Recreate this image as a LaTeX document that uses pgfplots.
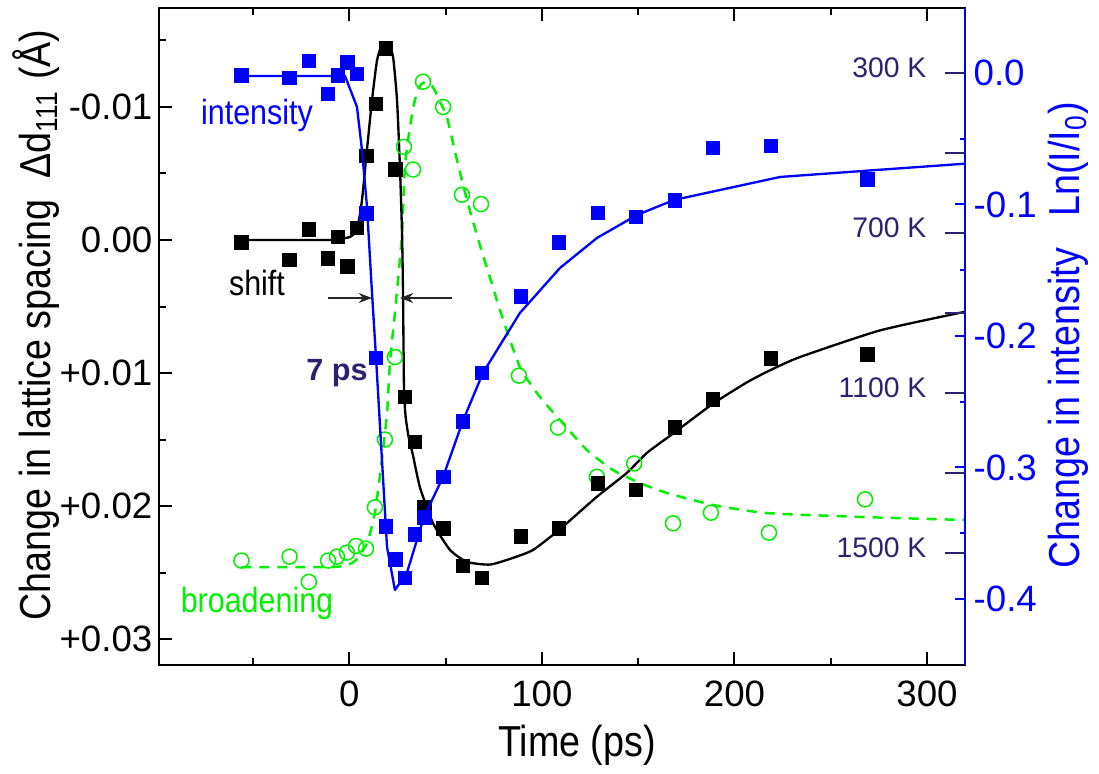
\documentclass[border=0pt]{standalone}
\usepackage{fontspec}
\setmainfont{Liberation Sans}
\newfontfamily\cond[FakeStretch=0.87]{Liberation Sans}
\usepackage{pgfplots}
\pgfplotsset{compat=1.18}
\usetikzlibrary{arrows.meta}
\definecolor{iblue}{RGB}{0,0,255}
\definecolor{bgreen}{RGB}{0,240,0}
\definecolor{navy}{HTML}{2E2070}

\begin{document}
\begin{tikzpicture}
\pgfplotsset{
  every axis/.append style={
    scale only axis, width=241.8pt, height=197.1pt,
    xmin=-98.8, xmax=319.7,
    scaled ticks=false,
    axis line style={line width=0.7pt},
    every tick/.style={line width=0.6pt},
    tick align=inside,
    ticklabel style={font=\fontsize{11}{13}\selectfont, inner sep=0pt},
    /pgf/number format/assume math mode=true,
  },
}
% left axis: lattice spacing (reversed), shift and broadening
\begin{axis}[
  y dir=reverse, ymin=-0.01744, ymax=0.03195,
  xtick={0,100,200,300}, minor xtick={-50,50,150,250},
  xtick pos=both,
  ytick={-0.01,0,0.01,0.02,0.03},
  yticklabels={-0.01,0.00,+0.01,+0.02,+0.03},
  minor ytick={-0.015,-0.005,0.005,0.015,0.025},
  ytick pos=left,
  major tick length=3.8pt, minor tick length=2pt,
  xticklabel style={yshift=-4.5pt},
  yticklabel style={xshift=-1.8pt},
  xlabel={Time (ps)},
  xlabel style={at={(rel axis cs:0.5186,-0.1218)}, anchor=center, font=\cond\fontsize{13}{15}\selectfont},
  ylabel={Change in lattice spacing\ \ Δd\textsubscript{111} (Å)},
  ylabel style={at={(rel axis cs:-0.1526,0.5175)}, anchor=center, font=\cond\fontsize{13}{15}\selectfont},
]
% broadening fit
\addplot[bgreen, line width=0.75pt, dash pattern=on 3pt off 2.4pt, smooth, tension=0.35] coordinates {
(-56,0.02459) (-10.0,0.02459) (-1.2,0.02444) (3.5,0.02406) (9.2,0.02278)
(13.3,0.02053) (16.9,0.01654) (19.6,0.01301) (21.1,0.00925) (23.7,0.00549)
(25.3,0.00301) (27.4,-0.00053) (28.9,-0.00549) (31.5,-0.00850) (34.1,-0.01053)
(36.7,-0.01158) (39.3,-0.01188) (43.4,-0.01150) (47.1,-0.01038) (50.7,-0.00925)
(55.9,-0.00602) (61.1,-0.00301) (67.8,0.00038) (74.6,0.00353) (78.2,0.00526)
(88.6,0.00955) (99.0,0.01180) (109.4,0.01353) (123.4,0.01579) (136.9,0.01729)
(150.9,0.01827) (165.0,0.01902) (188.9,0.01992) (217.0,0.02053) (267.8,0.02083)
(319.7,0.02105)
};
% broadening data
\addplot[only marks, mark=o, mark size=2.25pt, bgreen, mark options={line width=0.45pt}] coordinates {
(-56,0.0241) (-31,0.0238) (-21,0.0257) (-11,0.0241) (-6.4,0.0238) (-1.2,0.0235)
(3.5,0.0230) (8.7,0.0232) (13.3,0.0201) (18.5,0.0150) (23.7,0.0088) (28.4,-0.0070)
(33.1,-0.0053) (38.3,-0.0119) (48.7,-0.0100) (58.5,-0.0034) (68.4,-0.0027)
(88.1,0.0102) (108.4,0.0141) (128.6,0.0178) (147.9,0.0168) (168.1,0.0213)
(187.8,0.0205) (217.9,0.0220) (267.8,0.0195)
};
% shift fit
\addplot[black, line width=0.7pt, line join=round, smooth, tension=0.35] coordinates {
(-56,0) (-7.4,0) (-2.2,-0.00015) (0.4,-0.00023) (4.0,-0.00075) (6.6,-0.0030)
(9.2,-0.0068) (11.8,-0.0105) (14.4,-0.0135) (17.0,-0.0147) (20.1,-0.0148)
(22.7,-0.0138) (24.8,-0.0105) (26.3,-0.0055) (27.4,-0.0005) (27.9,0.0040)
(28.4,0.0110) (29.2,0.0132) (30.8,0.0148) (33.1,0.0162) (36.7,0.0186) (43.5,0.0213)
(52.3,0.0233) (61.1,0.0242) (73.1,0.0244) (85.0,0.0239) (95.4,0.0233)
(108.9,0.0218) (128.6,0.0193) (144.2,0.0175) (154.6,0.0160) (168.6,0.0145)
(188.9,0.0123) (206.5,0.0107) (218.4,0.0098) (234.0,0.0088) (275.5,0.0068)
(319.6,0.0054)
};
% shift data
\addplot[only marks, mark=square*, mark size=1.95pt, black] coordinates {
(-56,0.0002) (-31,0.0015) (-21,-0.0008) (-11,0.0014) (-6,-0.0002) (-1,0.0020)
(4,-0.0009) (9,-0.0063) (14,-0.0102) (19,-0.0144) (24,-0.0053) (29,0.0118)
(34,0.0152) (39,0.0201) (49,0.0217) (59,0.0245) (69,0.0254) (89,0.0223)
(109,0.0217) (129,0.0183) (149,0.0188) (169,0.0141) (189,0.0120) (219,0.0089)
(269,0.0086)
};
\node[iblue, font=\cond\fontsize{10.5}{12}\selectfont] at (rel axis cs:0.1216,0.8371) {intensity};
\node[black, font=\cond\fontsize{10.5}{12}\selectfont] at (rel axis cs:0.1216,0.5814) {shift};
\node[bgreen, font=\cond\fontsize{10.5}{12}\selectfont] at (rel axis cs:0.1216,0.0944) {broadening};
\node[navy, font=\fontsize{9.2}{11}\selectfont\bfseries] at (rel axis cs:0.2208,0.4444) {7 ps};
\draw[-{Stealth[length=4pt,width=3pt]}, line width=0.4pt, black!85] (axis cs:-11.1,0.00436) -- (axis cs:11.8,0.00436);
\draw[-{Stealth[length=4pt,width=3pt]}, line width=0.4pt, black!85] (axis cs:53.3,0.00436) -- (axis cs:26.3,0.00436);
\end{axis}

% right axis: ln(I/I0)
\begin{axis}[
  axis y line*=right, hide x axis,
  ymin=-0.4502, ymax=0.0494,
  ytick={0,-0.1,-0.2,-0.3,-0.4},
  yticklabels={0.0,-0.1,-0.2,-0.3,-0.4},
  minor ytick={-0.05,-0.15,-0.25,-0.35},
  y axis line style={iblue},
  every tick/.append style={iblue},
  major tick length=3pt, minor tick length=1.5pt,
  yticklabel style={iblue, xshift=2.4pt},
  ylabel={Change in intensity\ \ \ Ln(I/I\textsubscript{0})},
  ylabel style={at={(rel axis cs:1.128,0.502)}, anchor=center, iblue, font=\cond\fontsize{13}{15}\selectfont},
]
\addplot[iblue, line width=0.7pt, line join=round] coordinates {
(-56,-0.0023) (-2.2,-0.0023) (4.0,-0.0259) (6.6,-0.0586) (9.2,-0.1019)
(11.8,-0.1673) (13.9,-0.2167) (19.6,-0.3605) (23.7,-0.3932) (29.9,-0.3802)
(38.8,-0.3376) (48.7,-0.3072) (59.0,-0.2646) (69.4,-0.2281) (88.6,-0.1825)
(109.4,-0.1483) (128.6,-0.1255) (149.4,-0.1080) (168.6,-0.0966) (223.7,-0.0791)
(268.9,-0.0743) (319.7,-0.0690)
};
\addplot[only marks, mark=square*, mark size=1.95pt, iblue] coordinates {
(-56,-0.002) (-31,-0.004) (-21,0.009) (-11,-0.016) (-6,-0.002) (-1,0.008)
(4,-0.001) (9,-0.107) (14,-0.217) (19,-0.345) (24,-0.370) (29,-0.384)
(34,-0.351) (39,-0.338) (49,-0.307) (59,-0.265) (69,-0.228) (89,-0.170)
(109,-0.129) (129,-0.1065) (149,-0.1095) (169,-0.097) (189,-0.057)
(219,-0.0555) (269,-0.081)
};
\end{axis}

% temperature scale
\begin{axis}[
  axis y line*=right, hide x axis,
  y dir=reverse, ymin=137.5, ymax=1780,
  ytick={300,500,...,1500},
  yticklabels={300 K,,700 K,,1100 K,,1500 K},
  y axis line style={draw=none},
  major tick length=6pt,
  every tick/.append style={navy},
  yticklabel style={navy, anchor=east, xshift=-11.4pt, yshift=1.5pt, font=\fontsize{8.5}{10}\selectfont},
]
\end{axis}
\pgfresetboundingbox
\useasboundingbox (-47.7pt,-32.7pt) rectangle (282pt,199.5pt);
\end{tikzpicture}
\end{document}
